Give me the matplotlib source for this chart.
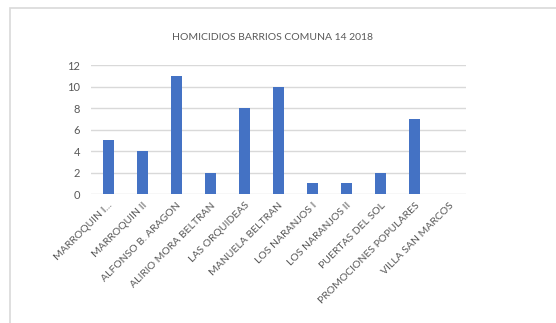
import matplotlib
matplotlib.use("Agg")
import matplotlib.pyplot as plt
from matplotlib.patches import Rectangle

barrios = ["MARROQUIN I...", "MARROQUIN II", "ALFONSO B. ARAGON", "ALIRIO MORA BELTRAN",
           "LAS ORQUIDEAS", "MANUELA BELTRAN", "LOS NARANJOS I", "LOS NARANJOS II",
           "PUERTAS DEL SOL", "PROMOCIONES POPULARES", "VILLA SAN MARCOS"]
homicidios = [5, 4, 11, 2, 8, 10, 1, 1, 2, 7, 0]
yticks = [0, 2, 4, 6, 8, 10, 12]

plt.rcParams['font.family'] = ['Lato', 'DejaVu Sans']

fig = plt.figure(figsize=(5.56, 3.23), dpi=100)
# borde del area del grafico
fig.patches.append(Rectangle((10 / 556, -0.1), 1.2, 1 - 8 / 323 + 0.1, transform=fig.transFigure,
                             fill=False, edgecolor="#d9d9d9", linewidth=1.2))

ax = fig.add_axes([91 / 556, 1 - 194 / 323, 375 / 556, 129 / 323])
x = range(len(barrios))
ax.bar(x, homicidios, width=0.32, color="#4472C4", zorder=3)

ax.set_xlim(-0.5, len(barrios) - 0.5)
ax.set_ylim(0, 12)
ax.set_yticks(yticks)
ax.grid(axis="y", color="#d9d9d9", linewidth=1, zorder=0)
for s in ax.spines.values():
    s.set_visible(False)
ax.tick_params(length=0, colors="#595959", labelsize=8)
ax.tick_params(axis="y", pad=8)
ax.tick_params(axis="x", pad=5)
ax.set_xticks(list(x))
ax.set_xticklabels(barrios, rotation=45, ha="right", va="top", rotation_mode="anchor", fontsize=7.5)

fig.text(272 / 556, 1 - 38 / 323, "HOMICIDIOS BARRIOS COMUNA 14 2018", ha="center", va="center",
         color="#595959", fontsize=7.5)

fig.savefig("out.png", dpi=100)
